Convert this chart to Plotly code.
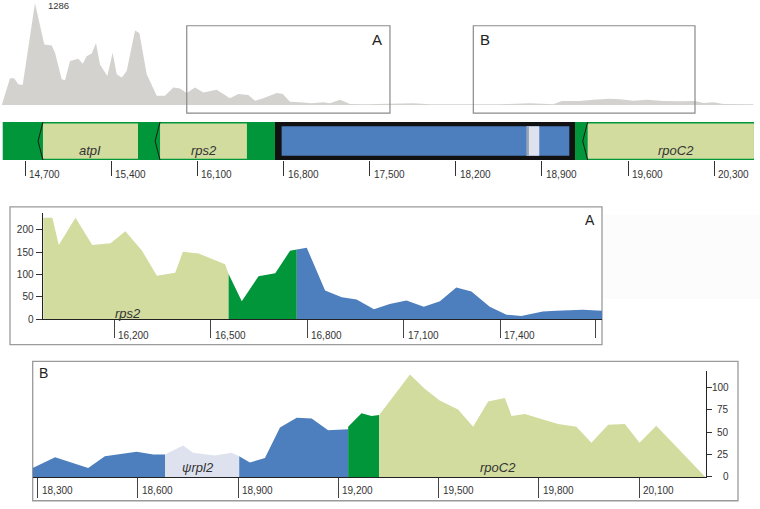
import plotly.graph_objects as go

W, H = 760, 509
def px(x): return x / W
def py(y): return 1 - y / H

FONT = "Arial, Liberation Sans, sans-serif"
LIGHT_GREEN = "#d1dc9e"
DARK_GREEN = "#009639"
BLUE = "#4d7ebd"
PSI = "#dde2ee"
GRAY = "#d3d2cf"

# ---------------- data ----------------
# overview coverage
cov_x = [14511, 14578, 14611, 14646, 14681, 14781, 14857, 14917, 14944, 14998, 15025, 15066,
         15133, 15169, 15201, 15242, 15277, 15309, 15369, 15412, 15445, 15486, 15526, 15594,
         15629, 15689, 15770, 15837, 15905, 15959, 16014, 16081, 16149, 16257, 16365, 16433,
         16514, 16569, 16636, 16745, 16794, 16853, 16934, 17029, 17123, 17178, 17259, 17340,
         17476, 17747, 17855, 17990, 18261, 18532, 18803, 18992, 19060, 19209, 19317, 19453,
         19534, 19642, 19751, 19886, 20021, 20143, 20211, 20292, 20373, 20617]
cov_y = [0, 338, 338, 263, 254, 1286, 764, 751, 660, 326, 313, 555,
         585, 522, 617, 651, 785, 513, 367, 660, 388, 347, 429, 943,
         910, 388, 116, 116, 222, 209, 150, 222, 159, 192, 84, 138,
         125, 54, 84, 150, 138, 41, 34, 21, 34, 21, 66, 13,
         9, 16, 21, 8, 4, 8, 21, 8, 50, 50, 67, 79,
         71, 54, 67, 50, 46, 50, 25, 33, 13, 8]
cov_max_label = "1286"

# overview gene map (bp)
map_start, map_end = 14519, 20622
gene_names = ["atpI", "rps2", "rpoC2"]
gene_starts = [14846, 15797, 19271]
gene_ends = [15618, 16503, 20622]
gene_label_x = [15226, 16154, 19987]
box_start, box_end = 16731, 19168
blue_start, blue_end = 16785, 19122
psi_start, psi_end = 18776, 18878
top_ticks = [14700, 15400, 16100, 16800, 17500, 18200, 18900, 19600, 20300]
zoom_boxes = {"A": (16014, 17665), "B": (18342, 20143)}

# panel A coverage by region
a_rps2_x = [15979, 16007, 16027, 16079, 16131, 16188, 16234, 16286, 16332, 16389, 16413, 16462, 16544, 16555]
a_rps2_y = [227, 227, 166, 227, 166, 170, 197, 153, 97, 104, 151, 147, 123, 101]
a_ig_x = [16555, 16596, 16648, 16700, 16746, 16767]
a_ig_y = [101, 40, 96, 103, 153, 156]
a_blue_x = [16767, 16798, 16855, 16907, 16953, 17007, 17056, 17108, 17162, 17212, 17263, 17310,
            17367, 17419, 17465, 17532, 17574, 17656, 17716]
a_blue_y = [156, 160, 64, 49, 44, 22, 34, 42, 28, 40, 71, 62, 28, 10, 7, 17, 19, 21, 19]
a_ticks = [16200, 16500, 16800, 17100, 17400]
a_yticks = [0, 50, 100, 150, 200]

# panel B coverage by region
b_blue1_x = [18285, 18352, 18451, 18501, 18596, 18646, 18681]
b_blue1_y = [10, 22, 10, 23, 28, 25, 25]
b_psi_x = [18681, 18735, 18765, 18830, 18880, 18903]
b_psi_y = [25, 35, 27, 24, 27, 23]
b_blue2_x = [18903, 18935, 18980, 19025, 19075, 19120, 19169, 19229]
b_blue2_y = [23, 16, 21, 55, 66, 65, 52, 53]
b_ig_x = [19229, 19269, 19299, 19322]
b_ig_y = [56, 71, 68, 69]
b_rpoc_x = [19322, 19414, 19459, 19503, 19558, 19603, 19648, 19698, 19718, 19758, 19812, 19857,
            19912, 19957, 20007, 20057, 20101, 20151, 20298]
b_rpoc_y = [69, 114, 98, 85, 75, 56, 84, 88, 68, 70, 64, 59, 56, 38, 58, 59, 38, 57, 0]
b_ticks = [18300, 18600, 18900, 19200, 19500, 19800, 20100]
b_yticks = [0, 25, 50, 75, 100]

# ---------------- figure ----------------
fig = go.Figure()

def area(x, y, color, xa, ya):
    fig.add_trace(go.Scatter(x=x, y=y, mode="lines", fill="tozeroy", fillcolor=color,
                             line=dict(width=0, color=color), xaxis=xa, yaxis=ya,
                             hoverinfo="skip", showlegend=False))

area(cov_x, cov_y, GRAY, "x", "y")

area(a_rps2_x, a_rps2_y, LIGHT_GREEN, "x2", "y3")
area(a_ig_x, a_ig_y, DARK_GREEN, "x2", "y3")
area(a_blue_x, a_blue_y, BLUE, "x2", "y3")

area(b_blue1_x, b_blue1_y, BLUE, "x3", "y4")
area(b_psi_x, b_psi_y, PSI, "x3", "y4")
area(b_blue2_x, b_blue2_y, BLUE, "x3", "y4")
area(b_ig_x, b_ig_y, DARK_GREEN, "x3", "y4")
area(b_rpoc_x, b_rpoc_y, LIGHT_GREEN, "x3", "y4")

shapes = []
# faint area right of panel A
shapes.append(dict(type="rect", xref="paper", yref="paper", x0=px(603), x1=px(760),
                   y0=py(302), y1=py(217), fillcolor="#fcfcfc", line=dict(width=0), layer="below"))
# panel frames
shapes.append(dict(type="rect", xref="paper", yref="paper", x0=px(10), x1=px(602),
                   y0=py(348), y1=py(209), line=dict(color="#9a9a9a", width=1.3), layer="below"))
shapes.append(dict(type="rect", xref="paper", yref="paper", x0=px(32.7), x1=px(738),
                   y0=py(505.7), y1=py(365), line=dict(color="#9a9a9a", width=1.3), layer="below"))
# zoom boxes on overview
for k, (s, e) in zoom_boxes.items():
    shapes.append(dict(type="rect", xref="x", yref="paper", x0=s, x1=e, y0=py(114.3), y1=py(26),
                       line=dict(color="#8a8a8a", width=1.2), layer="above"))

# gene map
shapes.append(dict(type="rect", xref="x", yref="y2", x0=map_start, x1=map_end, y0=0, y1=1,
                   fillcolor=DARK_GREEN, line=dict(width=0), layer="below"))
for s, e in zip(gene_starts, gene_ends):
    shapes.append(dict(type="rect", xref="x", yref="y2", x0=s, x1=e, y0=0.035, y1=0.965,
                       fillcolor=LIGHT_GREEN, line=dict(width=0), layer="below"))
shapes.append(dict(type="rect", xref="x", yref="y2", x0=box_start, x1=box_end, y0=-0.02, y1=1.025,
                   fillcolor="#111111", line=dict(width=0), layer="below"))
shapes.append(dict(type="rect", xref="x", yref="y2", x0=blue_start, x1=blue_end, y0=0.115, y1=0.89,
                   fillcolor=BLUE, line=dict(width=0), layer="below"))
shapes.append(dict(type="rect", xref="x", yref="y2", x0=psi_start, x1=psi_end, y0=0.115, y1=0.89,
                   fillcolor=PSI, line=dict(width=0), layer="below"))
shapes.append(dict(type="rect", xref="x", yref="y2", x0=psi_start, x1=psi_start + 18, y0=0.115, y1=0.89,
                   fillcolor="#9aa3b5", line=dict(width=0), layer="below"))
fig.update_layout(shapes=shapes)

# chevrons at gene starts
for s in gene_starts:
    fig.add_trace(go.Scatter(x=[s, s - 40, s], y=[1, 0.5, 0], mode="lines",
                             line=dict(color="#1a1a1a", width=1), xaxis="x", yaxis="y2",
                             hoverinfo="skip", showlegend=False))

ann = []
tickfont = dict(family=FONT, size=10, color="#333333")
for t in top_ticks:
    ann.append(dict(x=t, y=py(176), xref="x", yref="paper", text=f"{t:,}", showarrow=False,
                    xanchor="left", yanchor="middle", xshift=2, font=tickfont))
for t in a_ticks:
    ann.append(dict(x=t, y=py(338.5), xref="x2", yref="paper", text=f"{t:,}", showarrow=False,
                    xanchor="left", yanchor="middle", xshift=2, font=tickfont))
for t in b_ticks:
    ann.append(dict(x=t, y=py(495), xref="x3", yref="paper", text=f"{t:,}", showarrow=False,
                    xanchor="left", yanchor="middle", xshift=2, font=tickfont))
for t in b_yticks:
    ann.append(dict(x=px(730.5), y=t, xref="paper", yref="y4", text=str(t), showarrow=False,
                    xanchor="right", yanchor="middle", font=tickfont))

genefont = dict(family=FONT, size=13, color="#333333")
for n, gx in zip(gene_names, gene_label_x):
    ann.append(dict(x=gx, y=0.25, xref="x", yref="y2", text=f"<i>{n}</i>", showarrow=False,
                    xanchor="center", yanchor="middle", font=genefont))
ann.append(dict(x=16242, y=13, xref="x2", yref="y3", text="<i>rps2</i>", showarrow=False,
                xanchor="center", yanchor="middle", font=genefont))
ann.append(dict(x=18780, y=10, xref="x3", yref="y4", text="<i>ψrpl2</i>", showarrow=False,
                xanchor="center", yanchor="middle", font=genefont))
ann.append(dict(x=19677, y=10, xref="x3", yref="y4", text="<i>rpoC2</i>", showarrow=False,
                xanchor="center", yanchor="middle", font=genefont))

ann.append(dict(x=px(46), y=py(6), xref="paper", yref="paper", text=cov_max_label, showarrow=False,
                xanchor="left", yanchor="middle", font=dict(family=FONT, size=9.5, color="#333333")))
letterfont = dict(family=FONT, size=15, color="#222222")
ann.append(dict(x=zoom_boxes["A"][1], y=py(40), xref="x", yref="paper", text="A", showarrow=False,
                xanchor="right", xshift=-6, yanchor="middle", font=letterfont))
ann.append(dict(x=zoom_boxes["B"][0], y=py(40), xref="x", yref="paper", text="B", showarrow=False,
                xanchor="left", xshift=5, yanchor="middle", font=letterfont))
ann.append(dict(x=px(597), y=py(222), xref="paper", yref="paper", text="A", showarrow=False,
                xanchor="right", yanchor="middle", font=dict(family=FONT, size=14, color="#222222")))
ann.append(dict(x=px(37), y=py(377), xref="paper", yref="paper", text="B", showarrow=False,
                xanchor="left", yanchor="middle", font=dict(family=FONT, size=14, color="#222222")))

fig.update_layout(
    width=W, height=H, margin=dict(l=0, r=0, t=0, b=0),
    paper_bgcolor="white", plot_bgcolor="rgba(0,0,0,0)",
    showlegend=False, annotations=ann,
    font=dict(family=FONT, size=10, color="#333333"),
    xaxis=dict(domain=[0, 1], range=[14496.9, 20671.1], anchor="y2", showgrid=False, zeroline=False,
               showline=False, ticks="outside", ticklen=15, tickcolor="#333333", tickwidth=1,
               tickvals=top_ticks, showticklabels=False, fixedrange=True),
    yaxis=dict(domain=[py(106), py(3.3)], range=[0, 1286], anchor="x", visible=False),
    yaxis2=dict(domain=[py(161.7), py(123.3)], range=[0, 1], anchor="x", visible=False),
    xaxis2=dict(domain=[px(42.7), px(602)], range=[15977, 17716], anchor="y3", showgrid=False,
                zeroline=False, showline=True, linecolor="#222222", linewidth=1.3,
                ticks="outside", ticklen=18, tickcolor="#444444", tickwidth=1,
                tickvals=a_ticks + [17697], showticklabels=False),
    yaxis3=dict(domain=[py(322.3), py(215)], range=[0, 238], anchor="x2", showgrid=False,
                zeroline=False, showline=True, linecolor="#222222", linewidth=1.3,
                ticks="outside", ticklen=6, tickcolor="#333333", tickvals=a_yticks,
                tickfont=tickfont),
    xaxis3=dict(domain=[px(32.7), px(705.7)], range=[18285, 20299], anchor="y4", showgrid=False,
                zeroline=False, showline=True, linecolor="#222222", linewidth=1.3,
                ticks="outside", ticklen=20, tickcolor="#444444", tickwidth=1,
                tickvals=b_ticks, showticklabels=False),
    yaxis4=dict(domain=[py(481.7), py(375)], range=[0, 117.6], anchor="x3", side="right",
                showgrid=False, zeroline=False, showline=True, linecolor="#222222", linewidth=1.3,
                ticks="outside", ticklen=5, tickcolor="#333333", tickvals=b_yticks,
                showticklabels=False),
)

fig.write_html("out.html", config={"displayModeBar": False},
               post_script="document.body.style.margin='0';document.body.style.overflow='hidden';")
